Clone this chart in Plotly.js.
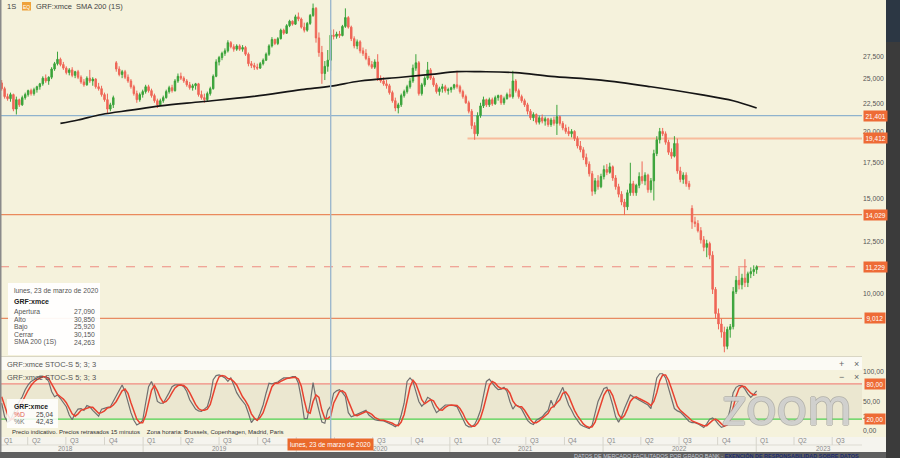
<!DOCTYPE html>
<html><head><meta charset="utf-8">
<script src="https://cdn.plot.ly/plotly-3.0.1.min.js"></script>
<style>html,body{margin:0;padding:0;background:#f5f2dc;}#chart{width:900px;height:458px;}</style>
</head><body><div id="chart"></div>
<script>
// ---------- DATA (weekly candles, GRF:xmce, from week of 2018-01-29) ----------
const firstWeek = '2018-01-29';
const openP = [
24.6,24.0,23.2,23.0,23.4,22.0,22.9,22.4,23.1,23.4,
23.8,23.5,23.9,24.2,24.5,25.1,24.8,25.2,26.1,26.7,
27.2,26.6,26.2,25.7,26.0,25.4,25.8,25.2,24.7,24.4,
25.1,24.8,25.0,24.2,24.0,23.4,22.9,22.0,22.4,26.8,
26.1,25.5,25.8,25.2,24.8,24.2,23.5,22.9,23.4,23.7,
24.2,23.8,23.3,22.8,22.4,22.8,23.1,23.7,24.1,23.8,
24.8,25.3,25.1,24.8,24.4,24.1,24.3,24.5,23.4,23.1,
22.9,23.5,24.0,25.3,26.9,27.4,27.9,28.2,29.2,28.7,
28.4,28.8,28.4,28.6,27.8,26.7,26.5,26.3,26.2,26.7,
27.1,27.8,28.8,29.6,29.1,29.7,30.8,30.4,31.4,32.0,
31.6,32.6,32.3,31.2,30.8,31.7,32.8,33.8,29.8,28.0,
25.6,26.4,27.09,30.15,30.0,30.3,30.1,31.3,32.5,31.2,
29.7,28.8,29.3,28.2,27.9,27.3,26.6,26.3,26.9,25.1,
24.8,24.5,24.3,23.6,22.8,22.1,22.4,23.3,23.7,24.2,
24.8,26.2,26.8,23.5,24.4,25.1,26.0,25.1,24.4,23.7,
24.0,24.2,23.8,23.9,24.1,24.4,24.2,23.7,23.2,22.6,
21.8,20.5,19.8,21.4,22.3,22.9,22.4,22.9,22.5,23.1,
23.3,22.6,23.0,23.4,23.2,24.8,23.8,23.2,22.8,22.4,
21.8,21.2,21.5,20.8,21.2,20.9,21.1,20.6,21.0,20.7,
21.3,20.7,20.3,20.0,19.8,20.0,19.4,18.8,18.5,17.9,
17.4,16.7,15.5,16.2,15.8,16.5,17.0,16.8,17.2,16.4,
15.8,15.3,14.8,14.5,15.4,16.0,15.4,15.9,16.5,16.2,
16.6,15.6,16.2,18.2,19.3,20.0,19.8,19.1,18.3,18.0,
19.0,16.9,16.3,16.6,16.0,14.4,13.6,13.5,13.1,12.6,
12.2,12.4,11.8,10.2,9.2,8.8,8.5,8.0,8.6,8.7,
10.1,10.6,10.4,10.7,10.5,10.9,11.0,11.1];
const highP = [
24.9,24.2,23.5,23.6,23.5,23.2,23.0,23.3,23.6,23.9,
24.0,24.1,24.3,24.6,25.3,25.5,25.3,26.3,26.9,28.1,
27.4,26.9,26.4,26.2,26.3,25.9,26.0,25.4,25.0,25.3,
26.0,25.2,25.1,24.6,24.3,23.6,23.5,22.6,23.3,27.0,
26.4,26.0,26.0,25.5,25.0,24.4,23.8,23.6,23.9,24.4,
24.4,24.0,23.5,23.0,23.0,23.3,23.9,24.3,24.4,25.0,
25.6,25.7,25.3,25.0,24.7,24.5,24.6,24.6,23.8,23.5,
23.7,24.2,25.5,27.2,27.6,28.1,28.5,29.5,29.4,29.0,
29.0,29.0,28.9,28.8,28.0,27.0,26.8,26.7,26.9,27.3,
28.0,29.0,29.9,29.7,29.9,31.0,31.0,31.6,32.2,32.1,
32.9,33.2,32.5,31.8,31.9,33.0,34.5,34.0,30.5,28.8,
27.0,28.3,30.85,30.9,30.6,30.7,31.5,33.8,32.7,31.4,
30.0,29.6,29.5,28.6,28.4,27.6,27.0,27.2,27.8,25.4,
25.2,24.9,24.5,23.8,23.1,22.6,23.5,23.9,24.4,25.1,
26.6,27.8,27.0,24.6,25.3,26.9,26.2,25.3,24.6,24.2,
24.5,24.4,24.1,24.2,24.5,25.9,24.4,23.9,23.4,22.8,
22.0,20.8,21.7,22.6,23.2,23.0,23.1,23.1,23.3,23.4,
23.4,23.2,23.6,24.0,25.9,25.0,24.0,23.4,23.0,22.6,
22.0,21.7,21.6,21.4,21.5,21.3,21.2,21.2,21.3,22.4,
21.4,20.9,20.6,20.4,20.2,20.1,19.6,19.2,18.7,18.2,
17.6,16.9,16.4,16.6,16.7,17.3,17.4,17.5,17.3,16.6,
16.0,15.5,15.0,15.6,17.5,16.2,16.0,16.8,17.6,16.8,
16.7,16.4,18.5,19.6,20.3,20.3,20.0,19.3,18.6,19.6,
19.4,17.2,16.8,16.8,16.2,14.6,13.9,13.7,13.3,12.8,
12.6,12.5,12.0,10.3,9.4,9.0,8.7,8.7,8.8,10.3,
10.8,11.2,10.9,11.6,11.0,11.2,11.3,11.3];
const lowP = [
23.8,23.0,22.8,22.7,21.8,21.5,22.2,22.3,22.9,23.2,
23.3,23.3,23.6,23.9,24.3,24.6,24.4,25.0,25.9,26.5,
26.4,26.0,25.5,25.4,25.2,25.1,25.0,24.5,24.2,24.3,
24.6,24.3,24.0,23.8,23.2,22.7,21.6,21.8,22.1,25.8,
25.3,25.1,25.0,24.6,24.0,23.3,22.6,22.7,23.1,23.5,
23.6,23.1,22.6,22.1,22.3,22.6,23.0,23.5,23.6,23.7,
24.6,24.9,24.6,24.2,23.9,23.8,23.9,23.2,22.9,22.6,
22.7,23.3,23.9,25.2,26.5,27.1,27.6,28.0,28.5,28.1,
28.2,28.2,28.1,27.6,26.4,26.2,26.0,26.0,26.1,26.5,
27.0,27.6,28.6,28.9,28.9,29.6,30.2,30.3,31.2,31.4,
31.5,32.0,31.0,30.5,30.6,31.5,32.6,29.2,27.5,24.5,
24.9,25.8,25.92,29.6,29.7,29.8,30.0,31.1,31.0,29.4,
28.5,28.4,27.9,27.6,27.1,26.4,26.1,26.1,24.8,24.6,
24.3,24.0,23.4,22.6,21.8,21.6,22.2,23.1,23.5,24.0,
24.6,25.9,23.3,23.3,24.2,24.9,24.9,24.2,23.5,23.3,
23.6,23.6,23.4,23.6,23.9,24.0,23.5,23.0,22.5,21.6,
20.2,19.3,19.6,21.2,22.1,22.2,22.2,22.3,22.4,22.8,
22.4,22.4,22.9,23.1,23.0,23.6,23.0,22.6,22.2,21.5,
21.0,20.9,20.6,20.6,20.7,20.5,20.4,20.4,20.5,19.7,
20.5,20.1,19.8,19.6,19.5,19.2,18.6,18.3,17.7,17.2,
16.5,15.2,15.3,15.6,15.7,16.3,16.6,16.7,16.2,15.6,
15.1,14.6,14.0,14.3,15.2,15.2,15.2,15.7,16.0,15.9,
15.4,15.4,14.9,18.0,19.0,19.6,18.9,18.1,17.8,17.9,
16.7,16.1,16.0,15.8,15.6,13.2,13.3,13.0,12.4,12.0,
11.7,11.6,10.0,9.0,8.6,8.3,7.8,7.9,8.3,8.6,
10.0,10.2,10.2,10.3,10.3,10.7,10.8,10.9];
const closeP = [
24.0,23.2,23.0,23.4,22.0,22.9,22.4,23.1,23.4,23.8,
23.5,23.9,24.2,24.5,25.1,24.8,25.2,26.1,26.7,27.2,
26.6,26.2,25.7,26.0,25.4,25.8,25.2,24.7,24.4,25.1,
24.8,25.0,24.2,24.0,23.4,22.9,22.0,22.4,23.1,26.1,
25.5,25.8,25.2,24.8,24.2,23.5,22.9,23.4,23.7,24.2,
23.8,23.3,22.8,22.4,22.8,23.1,23.7,24.1,23.8,24.8,
25.3,25.1,24.8,24.4,24.1,24.3,24.5,23.4,23.1,22.9,
23.5,24.0,25.3,26.9,27.4,27.9,28.2,29.2,28.7,28.4,
28.8,28.4,28.6,27.8,26.7,26.5,26.3,26.2,26.7,27.1,
27.8,28.8,29.6,29.1,29.7,30.8,30.4,31.4,32.0,31.6,
32.6,32.3,31.2,30.8,31.7,32.8,33.8,29.8,28.0,25.6,
26.4,27.1,30.15,30.0,30.3,30.1,31.3,32.5,31.2,29.7,
28.8,29.3,28.2,27.9,27.3,26.6,26.3,26.9,25.1,24.8,
24.5,24.3,23.6,22.8,22.1,22.4,23.3,23.7,24.2,24.8,
26.2,26.8,23.5,24.4,25.1,26.0,25.1,24.4,23.7,24.0,
24.2,23.8,23.9,24.1,24.4,24.2,23.7,23.2,22.6,21.8,
20.5,19.8,21.4,22.3,22.9,22.4,22.9,22.5,23.1,23.3,
22.6,23.0,23.4,23.2,24.8,23.8,23.2,22.8,22.4,21.8,
21.2,21.5,20.8,21.2,20.9,21.1,20.6,21.0,20.7,21.3,
20.7,20.3,20.0,19.8,20.0,19.4,18.8,18.5,17.9,17.4,
16.7,15.5,16.2,15.8,16.5,17.0,16.8,17.2,16.4,15.8,
15.3,14.8,14.5,15.4,16.0,15.4,15.9,16.5,16.2,16.6,
15.6,16.2,18.2,19.3,20.0,19.8,19.1,18.3,18.0,19.0,
16.9,16.3,16.6,16.0,15.8,13.6,13.5,13.1,12.6,12.2,
12.4,11.8,10.2,9.2,8.8,8.5,8.0,8.6,8.7,10.1,
10.6,10.4,10.7,10.5,10.9,11.0,11.1,11.23];
const stochK = [
47,24,15,18,30,41,50,58,70,78, 84,87,90,93,93,90,84,67,58,61,
55,47,41,27,19,30,37,38,35,43, 41,35,30,25,37,39,40,41,50,58,
68,78,67,47,31,18,10,13,18,47, 75,84,71,50,47,47,55,65,75,78,
78,78,75,67,53,44,37,34,33,37, 41,58,87,94,95,93,90,84,90,78,
65,57,51,44,30,14,21,18,30,44, 64,81,80,81,83,87,90,90,90,92,
92,81,55,21,21,47,82,55,35,15, 13,35,42,64,68,70,65,58,31,24,
26,28,31,32,35,27,23,19,18,18, 17,15,13,10,7,11,27,47,84,90,
84,67,50,42,47,57,54,41,31,35, 40,44,44,44,43,41,30,18,10,7,
7,11,21,35,58,84,88,81,75,70, 71,74,67,50,37,44,42,37,27,18,
13,11,18,21,24,30,35,52,40,53, 65,74,58,44,35,25,18,11,8,6,
4,10,30,50,61,72,74,61,44,24, 15,24,38,50,61,58,55,53,50,47,
44,38,67,90,97,97,90,72,53,38, 34,32,27,22,16,14,14,12,9,6,
12,20,22,18,11,6,8,17,38,65, 74,77,77,71,63,57,62,68];
const stochD = [
58,42,28,19,21,30,40,50,59,69, 77,83,87,90,92,92,89,80,70,62,
58,54,48,38,29,25,29,35,37,39, 40,40,35,30,31,34,39,40,44,50,
59,68,71,64,48,32,20,14,14,26, 47,69,77,68,56,48,50,56,65,73,
77,78,77,73,65,55,45,38,35,35, 37,45,62,80,92,94,93,89,88,84,
78,67,58,51,42,29,22,18,23,31, 46,63,75,81,81,84,87,89,90,91,
91,88,76,52,32,30,50,61,57,35, 21,21,25,47,58,67,68,64,51,38,
27,26,28,30,33,31,28,23,20,18, 18,17,15,13,10,9,15,28,53,74,
86,80,67,53,46,49,53,51,42,36, 35,40,43,44,44,43,38,30,19,12,
8,8,13,22,38,59,77,84,81,75, 72,72,71,64,51,44,41,41,35,27,
19,14,14,17,21,25,30,39,42,48, 53,64,66,59,46,35,26,18,12,8,
6,7,15,30,47,61,69,69,60,43, 28,21,26,37,50,56,58,55,53,50,
47,43,50,65,85,95,95,86,72,55, 42,35,31,27,22,17,15,13,12,9,
9,13,18,20,17,12,8,10,21,40, 59,72,76,75,70,64,61,62];
const smaDates = ['2018-06-18','2018-07-30','2018-09-24','2018-12-03','2019-02-11','2019-05-20','2019-09-16','2020-01-13','2020-03-23','2020-06-01','2020-09-07','2020-11-16','2021-01-18','2021-03-15','2021-06-07','2021-08-30','2021-12-27','2022-04-25','2022-08-22','2022-11-07','2023-01-02'];
const smaVals = [20.7,21.0,21.5,21.9,22.3,22.7,23.2,23.9,24.26,24.8,25.2,25.5,25.8,25.8,25.7,25.3,24.9,24.2,23.4,22.8,22.1];
const priceTickVals = [10,12.5,15,17.5,20,22.5,25,27.5];
const priceTickText = ['10,000','12,500','15,000','17,500','20,000','22,500','25,000','27,500'];
const levelVals = [21.401,19.412,14.029,11.229,9.012];
const levelText = ['21,401','19,412','14,029','11,229','9,012'];
const stochTickVals = [0,25,50,100];
const stochTickText = ['0,00','25,00','50,00','100,00'];
const stochLevelVals = [80,20];
const stochLevelText = ['80,00','20,00'];
const tipLabels = ['Apertura','Alto','Bajo','Cerrar','SMA 200 (1S)'];
const tipValues = ['27,090','30,850','25,920','30,150','24,263'];
const quarterNames = ['Q1','Q2','Q3','Q4'];
const yearNames = ['2018','2019','2020','2021','2022','2023'];
const crossDate = '2020-03-23';
const crossText = 'lunes, 23 de marzo de 2020';

// ---------- helpers ----------
const W = 900, H = 458;
const PX = x => x / W, PY = y => 1 - y / H;
const FONT = 'Liberation Sans, Arial, sans-serif';
function weekDates(n) {
  const out = []; const t0 = Date.parse(firstWeek + 'T00:00:00Z');
  for (let i = 0; i < n; i++) out.push(new Date(t0 + i * 7 * 86400000).toISOString().slice(0, 10));
  return out;
}
const dates = weekDates(closeP.length);
function ann(x, y, text, size, color, extra) {
  return Object.assign({xref:'paper', yref:'paper', x:PX(x), y:PY(y), text:text, showarrow:false,
    xanchor:'left', yanchor:'middle', font:{family:FONT, size:size, color:color}}, extra || {});
}
function rect(x0, y0, x1, y1, fill, extra) {
  return Object.assign({type:'rect', xref:'paper', yref:'paper', x0:PX(x0), x1:PX(x1), y0:PY(y1), y1:PY(y0),
    fillcolor:fill, line:{width:0}, layer:'above'}, extra || {});
}

const GREEN = '#3aa33a', RED = '#ef6657';
const traces = [
  {type:'candlestick', x:dates, open:openP, high:highP, low:lowP, close:closeP, xaxis:'x', yaxis:'y',
   increasing:{line:{color:GREEN, width:1}, fillcolor:GREEN},
   decreasing:{line:{color:RED, width:1}, fillcolor:RED},
   hoverinfo:'skip', showlegend:false},
  {type:'scatter', mode:'lines', x:smaDates, y:smaVals, xaxis:'x', yaxis:'y',
   line:{color:'#151515', width:1.7, shape:'spline'}, hoverinfo:'skip', showlegend:false},
  {type:'scatter', mode:'lines', x:dates, y:stochK, xaxis:'x2', yaxis:'y2',
   line:{color:'#6f6f6f', width:1.2}, hoverinfo:'skip', showlegend:false},
  {type:'scatter', mode:'lines', x:dates, y:stochD, xaxis:'x2', yaxis:'y2',
   line:{color:'#e8412f', width:1.5}, hoverinfo:'skip', showlegend:false}
];

const shapes = [];
const annotations = [];
const PR = 862; // plot right edge px

// stochastic panel band & level lines
shapes.push({type:'rect', xref:'paper', yref:'y2', x0:0, x1:PX(PR), y0:20, y1:80, fillcolor:'rgba(120,105,60,0.07)', line:{width:0}, layer:'below'});
shapes.push({type:'line', xref:'paper', yref:'y2', x0:0, x1:PX(PR), y0:80, y1:80, line:{color:'#f28b80', width:1.2}, layer:'below'});
shapes.push({type:'line', xref:'paper', yref:'y2', x0:0, x1:PX(PR), y0:20, y1:20, line:{color:'#4fd24f', width:1.2}, layer:'below'});

// price level lines
const levelStyles = [
  {color:'#8fb3cd', width:1.3, x0:null},
  {color:'#f8bc9c', width:2, x0:'2021-02-12'},
  {color:'#ea8a5c', width:1.2, x0:null},
  {color:'#ee8c80', width:1.1, x0:null, dash:'dash'},
  {color:'#e88b62', width:1.2, x0:null}
];
levelVals.forEach((v, k) => {
  const s = levelStyles[k];
  if (s.x0) shapes.push({type:'line', xref:'x', yref:'y', x0:s.x0, x1:'2023-09-10', y0:v, y1:v, line:{color:s.color, width:s.width}, layer:'below'});
  else shapes.push({type:'line', xref:'paper', yref:'y', x0:0, x1:PX(PR), y0:v, y1:v, line:{color:s.color, width:s.width, dash:s.dash||'solid'}, layer:'below'});
});

// header bar of stochastic
shapes.push(rect(0, 357, PR, 370, '#fbfaf4'));
shapes.push({type:'line', xref:'paper', yref:'paper', x0:0, x1:PX(PR), y0:PY(356.5), y1:PY(356.5), line:{color:'#d9d6c4', width:1}, layer:'above'});

// axis area
shapes.push(rect(0, 437, 886, 452, '#f5f4ee'));
shapes.push({type:'line', xref:'paper', yref:'paper', x0:0, x1:PX(PR), y0:PY(445), y1:PY(445), line:{color:'#dddbd2', width:1}, layer:'above'});
const hiddenQuarters = ['2020-01-01', '2020-04-01']; // covered by the crosshair date label in the reference
for (let yy = 2018; yy <= 2023; yy++) {
  for (let q = 0; q < 4; q++) {
    const d = yy + '-' + String(1 + q * 3).padStart(2, '0') + '-01';
    if (d < '2018-02-01' || d > '2023-08-01') continue;
    shapes.push({type:'line', xref:'x', yref:'paper', x0:d, x1:d, y0:PY(445), y1:PY(437), line:{color:'#d6d4cb', width:1}, layer:'above'});
    if (hiddenQuarters.includes(d)) continue;
    annotations.push({xref:'x', yref:'paper', x:d, y:PY(441), text:quarterNames[q], showarrow:false, xanchor:'left', yanchor:'middle', xshift:2, font:{family:FONT, size:6.5, color:'#8a8a8a'}});
  }
}
annotations.push(ann(2, 441, quarterNames[0], 6.5, '#8a8a8a'));
yearNames.forEach((y, k) => {
  if (k > 0) shapes.push({type:'line', xref:'x', yref:'paper', x0:y + '-01-01', x1:y + '-01-01', y0:PY(452), y1:PY(445), line:{color:'#d6d4cb', width:1}, layer:'above'});
  const xd = k === 5 ? y + '-06-10' : (k === 2 ? y + '-07-20' : y + '-07-01');
  annotations.push({xref:'x', yref:'paper', x:xd, y:PY(448.5), text:y, showarrow:false, xanchor:'center', yanchor:'middle', font:{family:FONT, size:6.5, color:'#8a8a8a'}});
});

// bottom & right strips, left edge
shapes.push(rect(0, 452, 900, 458, '#5f5f5f'));
shapes.push(rect(886, 0, 900, 458, '#3b3b3b'));
shapes.push(rect(886, 0, 900, 42, '#2c3744'));
shapes.push(rect(0, 0, 1.5, 452, '#8a8a8a'));

// tooltip box + stoch legend box
shapes.push(rect(8, 283, 100, 355, 'rgba(255,255,255,0.93)'));
shapes.push(rect(7, 399, 58, 428, 'rgba(255,255,255,0.85)'));
// EQ badge
shapes.push(rect(22, 2, 31, 10.5, '#efa23b'));

// crosshair vertical
shapes.push({type:'line', xref:'x', yref:'paper', x0:crossDate, x1:crossDate, y0:PY(439), y1:1, line:{color:'#9db8cd', width:1.4}, layer:'above'});

// top-left labels
annotations.push(ann(5, 7, '1S', 7.5, '#444'));
annotations.push(ann(26.5, 6.5, 'EQ', 5, '#ffffff', {xanchor:'center'}));
annotations.push(ann(34, 7, 'GRF:xmce  SMA 200 (1S)', 7.5, '#444'));

// tooltip text
annotations.push(ann(12, 290, crossText, 6.8, '#555'));
annotations.push(ann(12, 301, '<b>GRF:xmce</b>', 7, '#222'));
const tipY = [311.5, 319, 326.5, 334, 342];
tipLabels.forEach((t, k) => {
  annotations.push(ann(12, tipY[k], t, 6.8, '#555'));
  annotations.push(ann(97, tipY[k], tipValues[k], 6.8, '#555', {xanchor:'right'}));
});

// price level labels on right axis
levelVals.forEach((v, k) => {
  annotations.push({xref:'paper', yref:'y', x:PX(875), y:Math.log10(v), text:levelText[k], showarrow:false,
    xanchor:'center', yanchor:'middle', bgcolor:'#ee6b36', borderpad:1.5, font:{family:FONT, size:6.5, color:'#ffffff'}});
});
stochLevelVals.forEach((v, k) => {
  annotations.push({xref:'paper', yref:'y2', x:PX(875), y:v, text:stochLevelText[k], showarrow:false,
    xanchor:'center', yanchor:'middle', bgcolor:'#ee6b36', borderpad:1.5, font:{family:FONT, size:6.5, color:'#ffffff'}});
});

// stochastic headers
annotations.push(ann(5, 364, 'GRF:xmce STOC-S 5; 3; 3', 7.5, '#555'));
annotations.push(ann(5, 377, 'GRF:xmce STOC-S 5; 3; 3', 7.5, '#555'));
annotations.push(ann(841, 364, '+', 9, '#666', {xanchor:'center'}));
annotations.push(ann(856, 364, '×', 9, '#666', {xanchor:'center'}));
annotations.push(ann(841, 377, '−', 9, '#666', {xanchor:'center'}));
annotations.push(ann(856, 377, '×', 9, '#666', {xanchor:'center'}));

// stoch legend
annotations.push(ann(12, 406, '<b>GRF:xmce</b>', 6.8, '#222'));
annotations.push(ann(12, 414.5, '%D', 6.8, '#e05a50'));
annotations.push(ann(55, 414.5, '25,04', 6.8, '#444', {xanchor:'right'}));
annotations.push(ann(12, 421.5, '%K', 6.8, '#777'));
annotations.push(ann(55, 421.5, '42,43', 6.8, '#444', {xanchor:'right'}));
annotations.push(ann(10, 432, 'Precio indicativo. Precios retrasados 15 minutos&nbsp;&nbsp;&nbsp;&nbsp;Zona horaria: Brussels, Copenhagen, Madrid, Paris', 6, '#333'));

// crosshair date label
annotations.push({xref:'x', yref:'paper', x:crossDate, y:PY(444), text:crossText, showarrow:false, xanchor:'center', yanchor:'middle',
  bgcolor:'#ea6a2c', borderpad:2, font:{family:FONT, size:6.5, color:'#ffffff'}});

// zoom watermark
annotations.push(ann(787, 404, 'zoom', 54, 'rgba(255,255,255,0.55)', {xanchor:'center',
  font:{family:'Lato, Arial, sans-serif', size:54, color:'rgba(250,250,245,0.55)', shadow:'1px 0 0 #9a9a9a, -1px 0 0 #9a9a9a, 0 1px 0 #9a9a9a, 0 -1px 0 #9a9a9a'}}));

// bottom disclaimer
annotations.push(ann(572, 455, 'DATOS DE MERCADO FACILITADOS POR GRADO BANK - <span style="color:#1c2c70"><b>EXENCIÓN DE RESPONSABILIDAD SOBRE DATOS</b></span>', 5.5, '#c8ccd8'));

const layout = {
  width: W, height: H,
  margin: {l:0, r:0, t:0, b:0},
  paper_bgcolor: '#f5f2dc', plot_bgcolor: '#f5f2dc',
  showlegend: false,
  xaxis: {domain:[0, PX(PR)], type:'date', range:['2018-01-25','2023-09-10'], anchor:'y',
          showticklabels:false, showgrid:false, zeroline:false, showline:false, ticks:'', rangeslider:{visible:false}, fixedrange:true},
  yaxis: {domain:[PY(356), 1], type:'log', range:[0.8852, 1.5444], side:'right', anchor:'x',
          tickvals:priceTickVals, ticktext:priceTickText, tickfont:{family:FONT, size:6.8, color:'#555'},
          showgrid:false, zeroline:false, showline:false, ticks:'', fixedrange:true},
  xaxis2: {domain:[0, PX(PR)], type:'date', matches:'x', anchor:'y2',
           showticklabels:false, showgrid:false, zeroline:false, showline:false, ticks:''},
  yaxis2: {domain:[PY(437), PY(370)], range:[-10.3, 103.4], side:'right', anchor:'x2',
           tickvals:stochTickVals, ticktext:stochTickText, tickfont:{family:FONT, size:6.8, color:'#555'},
           showgrid:false, zeroline:false, showline:false, ticks:'', fixedrange:true},
  shapes: shapes,
  annotations: annotations
};
Plotly.newPlot('chart', traces, layout, {displayModeBar:false, staticPlot:true});
</script>
</body></html>
